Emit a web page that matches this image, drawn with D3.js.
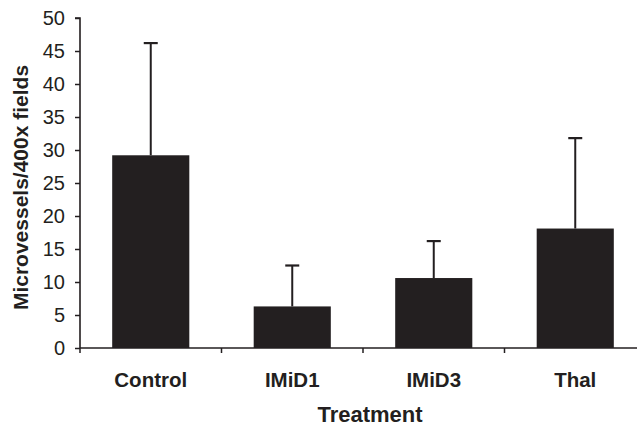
<!DOCTYPE html>
<html>
<head>
<meta charset="utf-8">
<script src="https://cdn.jsdelivr.net/npm/d3@7"></script>
<style>
  html, body { margin: 0; padding: 0; background: #fff; }
  svg { display: block; }
  text { font-family: "Liberation Sans", Arial, sans-serif; fill: #231f20; }
</style>
</head>
<body>
<script>
const categories = ["Control", "IMiD1", "IMiD3", "Thal"];
const means = [29.2, 6.3, 10.6, 18.1];
const errors = [17.0, 6.2, 5.6, 13.7];
const yTicks = [0, 5, 10, 15, 20, 25, 30, 35, 40, 45, 50];
const xTitle = "Treatment";
const yTitle = "Microvessels/400x fields";

const W = 637, H = 428;
const ink = "#231f20";
const svg = d3.select("body").append("svg").attr("width", W).attr("height", H);

const x = d3.scaleBand().domain(categories).range([80, 646])
  .paddingInner(0.455).paddingOuter(0.2275);
const y = d3.scaleLinear().domain([0, 50]).range([348, 18]);

const data = categories.map((c, i) => ({ c, m: means[i], e: errors[i] }));

// bars
svg.selectAll("rect.bar").data(data).enter().append("rect")
  .attr("class", "bar")
  .attr("x", d => x(d.c))
  .attr("width", x.bandwidth())
  .attr("y", d => y(d.m))
  .attr("height", d => y(0) - y(d.m))
  .attr("fill", ink);

// error bars (upper only)
const cap = 7;
svg.selectAll("line.err").data(data).enter().append("line")
  .attr("x1", d => x(d.c) + x.bandwidth() / 2)
  .attr("x2", d => x(d.c) + x.bandwidth() / 2)
  .attr("y1", d => y(d.m))
  .attr("y2", d => y(d.m + d.e))
  .attr("stroke", ink).attr("stroke-width", 2);
svg.selectAll("line.cap").data(data).enter().append("line")
  .attr("x1", d => x(d.c) + x.bandwidth() / 2 - cap)
  .attr("x2", d => x(d.c) + x.bandwidth() / 2 + cap)
  .attr("y1", d => y(d.m + d.e))
  .attr("y2", d => y(d.m + d.e))
  .attr("stroke", ink).attr("stroke-width", 2.2);

// y axis
const yAxis = d3.axisLeft(y).tickValues(yTicks).tickSize(5).tickPadding(10);
const gy = svg.append("g").attr("transform", "translate(80,0)").call(yAxis);
gy.select(".domain").attr("stroke", ink).attr("stroke-width", 1.6).attr("d", `M-5,${y(50)}H0V${y(0)}`);
gy.selectAll(".tick line").attr("stroke", ink).attr("stroke-width", 1.5);
gy.selectAll(".tick text").attr("font-size", 20).attr("font-family", "Liberation Sans, Arial, sans-serif").attr("fill", ink);

// x axis
svg.append("line").attr("x1", 80).attr("x2", W).attr("y1", y(0)).attr("y2", y(0))
  .attr("stroke", ink).attr("stroke-width", 1.6);
const bounds = categories.slice(1).map(c => x(c) - x.step() * x.paddingInner() / 2);
svg.selectAll("line.xt").data(bounds).enter().append("line")
  .attr("x1", d => d).attr("x2", d => d)
  .attr("y1", y(0)).attr("y2", y(0) + 5)
  .attr("stroke", ink).attr("stroke-width", 1.5);
svg.append("line").attr("x1", 80).attr("x2", 80).attr("y1", y(0)).attr("y2", y(0) + 5)
  .attr("stroke", ink).attr("stroke-width", 1.5);

svg.selectAll("text.xl").data(categories).enter().append("text")
  .attr("x", d => x(d) + x.bandwidth() / 2)
  .attr("y", 387)
  .attr("text-anchor", "middle")
  .attr("font-size", 20.5).attr("font-weight", "bold")
  .text(d => d);

svg.append("text").attr("x", 370).attr("y", 422).attr("text-anchor", "middle")
  .attr("font-size", 22).attr("font-weight", "bold").text(xTitle);

svg.append("text").attr("transform", "translate(28,187.5) rotate(-90)")
  .attr("text-anchor", "middle")
  .attr("font-size", 21).attr("font-weight", "bold").text(yTitle);
</script>
</body>
</html>
